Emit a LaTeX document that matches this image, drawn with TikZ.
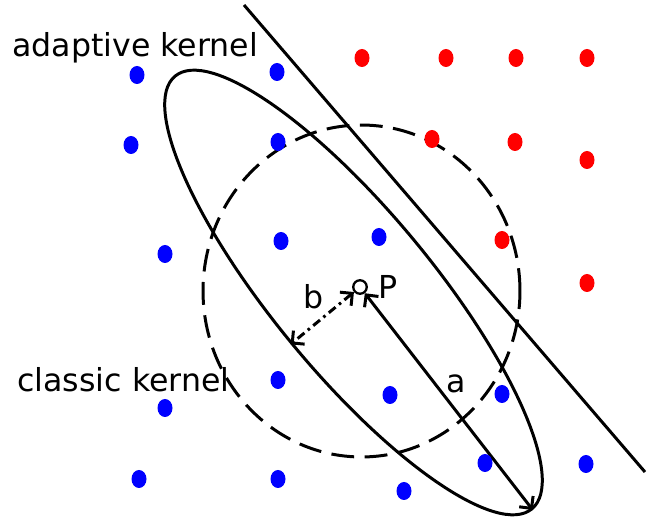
\documentclass[tikz,border=0pt]{standalone}
\usepackage{fontspec}
\setmainfont{DejaVu Sans}
\usetikzlibrary{arrows.meta,positioning,shapes.geometric}

\begin{document}
\begin{tikzpicture}[
  x=0.02cm,y=-0.02cm,
  >={Straight Barb[length=5pt,width=10pt]},
  font=\fontsize{18}{22}\selectfont,
  curve/.style={line width=1.7pt},
  kernel/.style={draw,curve,ellipse,inner sep=0pt},
  lab/.style={inner sep=0pt,anchor=base west}]

  \useasboundingbox[fill=white] (0,0) rectangle (647,527);

  % ---- kernels ----
  \node[kernel,dash pattern=on 13pt off 6pt,minimum width=6.34cm,minimum height=6.64cm]
    (classic) at (361.5,291) {};
  \node[kernel,rotate=-50.5,minimum width=11.22cm,minimum height=3.2cm]
    (adaptive) at (353.5,292.5) {};

  % ---- class boundary ----
  \coordinate (top) at (244,5);
  \coordinate (bot) at (645,472);
  \draw[curve] (top) -- (bot);

  % ---- query point and axes ----
  \node[draw,circle,line width=1.3pt,minimum size=0.27cm,inner sep=0pt] (P) at (360,287) {};
  \node[lab] (Plab) at (378,299) {P};
  \draw[curve,<->] (P) -- (adaptive.east);
  \draw[curve,<->,dash pattern=on 5pt off 2.5pt on 1.5pt off 2.5pt] (P) -- (adaptive.south);
  \node[lab] (alab) at (446,393) {a};
  \node[lab] (blab) at (303,309) {b};

  % ---- samples ----
  \foreach \px/\py in {137/75,277/72,131/145,278/142,165/254,281/241,379/237,
      278/380,165/408,390/395,502/394,485/463,586/464,139/479,278/479,404/491}
    \fill[blue] (\px,\py) ellipse [x radius=7.5,y radius=9];
  \foreach \px/\py in {362/58,446/58,516/58,587/58,432/139,515/142,587/160,
      502/240,587/283}
    \fill[red] (\px,\py) ellipse [x radius=7.5,y radius=9];

  % labels
  \node[lab] (adlab) at (12,57) {adaptive kernel};
  \node[lab] (cllab) at (17,392) {classic kernel};
\end{tikzpicture}
\end{document}
